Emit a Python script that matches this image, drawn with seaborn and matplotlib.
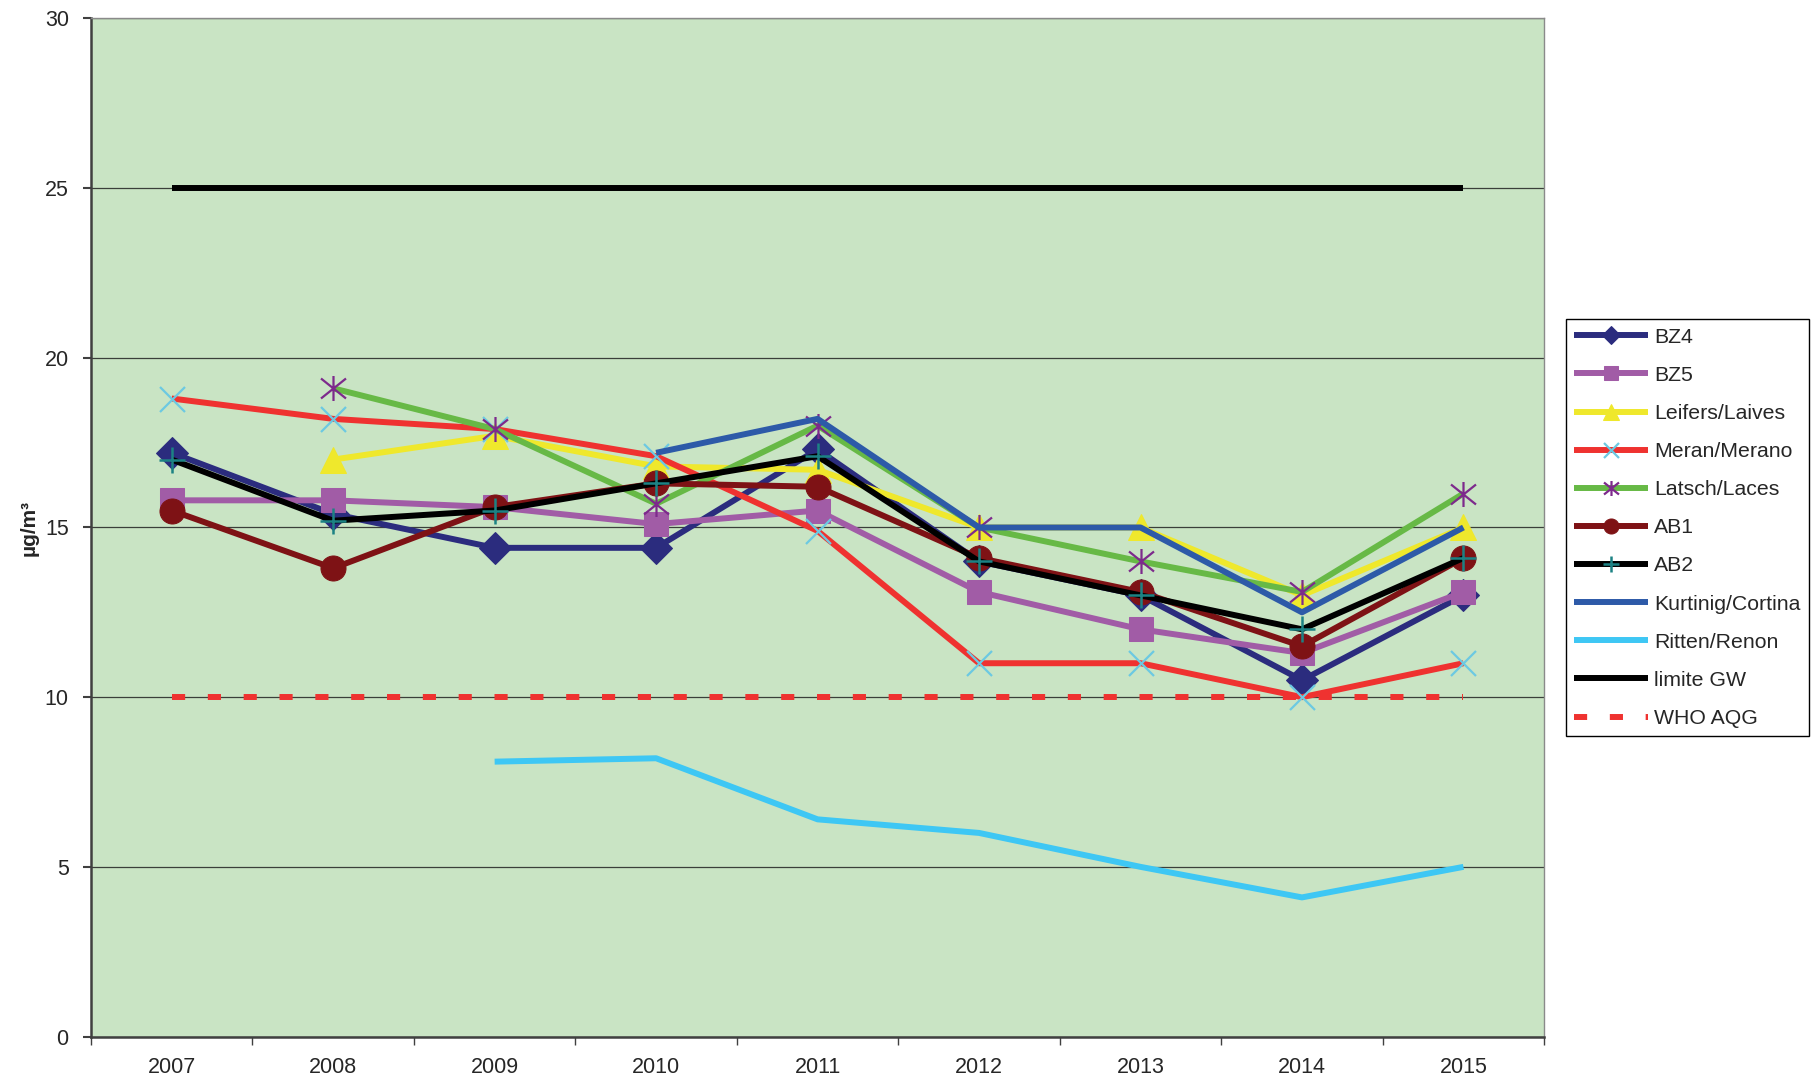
import numpy as np
import pandas as pd
import matplotlib
matplotlib.use("Agg")
import matplotlib.pyplot as plt
from matplotlib.path import Path
import seaborn as sns

years = [2007, 2008, 2009, 2010, 2011, 2012, 2013, 2014, 2015]
nan = np.nan

bz4 = [17.2, 15.4, 14.4, 14.4, 17.3, 14.0, 13.0, 10.5, 13.0]
bz5 = [15.8, 15.8, 15.6, 15.1, 15.5, 13.1, 12.0, 11.3, 13.1]
leifers = [nan, 17.0, 17.7, 16.8, 16.7, 15.0, 15.0, 13.0, 15.0]
meran = [18.8, 18.2, 17.9, 17.1, 14.9, 11.0, 11.0, 10.0, 11.0]
latsch = [nan, 19.1, 17.9, 15.7, 18.0, 15.0, 14.0, 13.1, 16.0]
ab1 = [15.5, 13.8, 15.6, 16.3, 16.2, 14.1, 13.1, 11.5, 14.1]
ab2 = [17.0, 15.2, 15.5, 16.3, 17.1, 14.0, 13.0, 12.0, 14.1]
kurtinig = [nan, nan, nan, 17.2, 18.2, 15.0, 15.0, 12.5, 15.0]
ritten = [nan, nan, 8.1, 8.2, 6.4, 6.0, 5.0, 4.1, 5.0]
limite_gw = [25, 25, 25, 25, 25, 25, 25, 25, 25]
who_aqg = [10, 10, 10, 10, 10, 10, 10, 10, 10]

# Excel-like asterisk: an X plus a vertical bar
star = Path([(-1, -0.8), (1, 0.8), (-1, 0.8), (1, -0.8), (0, -1), (0, 1)],
            [Path.MOVETO, Path.LINETO, Path.MOVETO, Path.LINETO, Path.MOVETO, Path.LINETO])

series = [
    ("BZ4", bz4, dict(color="#2b2c7e", marker="D", markersize=16, markeredgecolor="#2b2c7e")),
    ("BZ5", bz5, dict(color="#a15ca6", marker="s", markersize=17, markeredgecolor="#a15ca6")),
    ("Leifers/Laives", leifers, dict(color="#efe82c", marker="^", markersize=19, markeredgecolor="#efe82c")),
    ("Meran/Merano", meran, dict(color="#ef3230", marker="x", markersize=18,
                                 markeredgecolor="#6cc9e2", markeredgewidth=1.6)),
    ("Latsch/Laces", latsch, dict(color="#67b946", marker=star, markersize=18,
                                  markeredgecolor="#7d2a8c", markeredgewidth=1.6)),
    ("AB1", ab1, dict(color="#7e1215", marker="o", markersize=18, markeredgecolor="#7e1215")),
    ("AB2", ab2, dict(color="#000000", marker="+", markersize=19,
                      markeredgecolor="#1c8284", markeredgewidth=1.8)),
    ("Kurtinig/Cortina", kurtinig, dict(color="#2d5aa8")),
    ("Ritten/Renon", ritten, dict(color="#3ec7f4")),
    ("limite GW", limite_gw, dict(color="#000000")),
    ("WHO AQG", who_aqg, dict(color="#ef3230", linestyle=(0, (2.2, 3.8)))),
]

sns.set_style("ticks")
plt.rcParams["font.family"] = ["Liberation Sans", "DejaVu Sans"]

fig = plt.figure(figsize=(18.12, 10.82), dpi=100)
ax = fig.add_axes([0.0502, 0.042, 0.802, 0.941])
ax.set_facecolor("#c9e4c4")

handles = []
for name, vals, style in series:
    df = pd.DataFrame({"year": years, "value": vals}).dropna()
    sns.lineplot(data=df, x="year", y="value", ax=ax, lw=4.3, estimator=None,
                 solid_capstyle="butt", label=name, legend=False, **style)
    handles.append(ax.lines[-1])

ax.set_xlim(2006.5, 2015.5)
ax.set_ylim(0, 30)
ax.set_yticks([0, 5, 10, 15, 20, 25, 30])
ax.set_xticks(years)
ax.set_xticklabels([str(y) for y in years])
ax.set_xticks(np.arange(2006.5, 2015.6, 1), minor=True)
ax.tick_params(axis="x", which="major", length=0, pad=15, labelsize=15.5)
ax.tick_params(axis="x", which="minor", length=6, width=1, color="#404040")
ax.tick_params(axis="y", length=6, width=1.5, color="#404040", pad=10, labelsize=15.5)
ax.yaxis.grid(True, color="#3a3f3a", lw=0.9)
ax.set_axisbelow(True)
ax.set_xlabel("")
ax.set_ylabel("µg/m³", fontsize=15, fontweight="bold", labelpad=4)

for side in ["top", "right"]:
    ax.spines[side].set_visible(True)
    ax.spines[side].set_color("#8a8a8a")
    ax.spines[side].set_linewidth(1)
for side in ["left", "bottom"]:
    ax.spines[side].set_color("#404040")
    ax.spines[side].set_linewidth(1.8)

leg = fig.legend(handles=handles, labels=[s[0] for s in series], loc="upper left",
                 bbox_to_anchor=(0.864, 0.705), borderaxespad=0, fontsize=15.3,
                 frameon=True, fancybox=False, edgecolor="#000000", framealpha=1,
                 handlelength=3.5, handletextpad=0.25, labelspacing=0.9,
                 numpoints=1, borderpad=0.4, markerscale=0.6)
leg.get_frame().set_linewidth(1.0)

fig.savefig("out.png", dpi=100, facecolor="white")
